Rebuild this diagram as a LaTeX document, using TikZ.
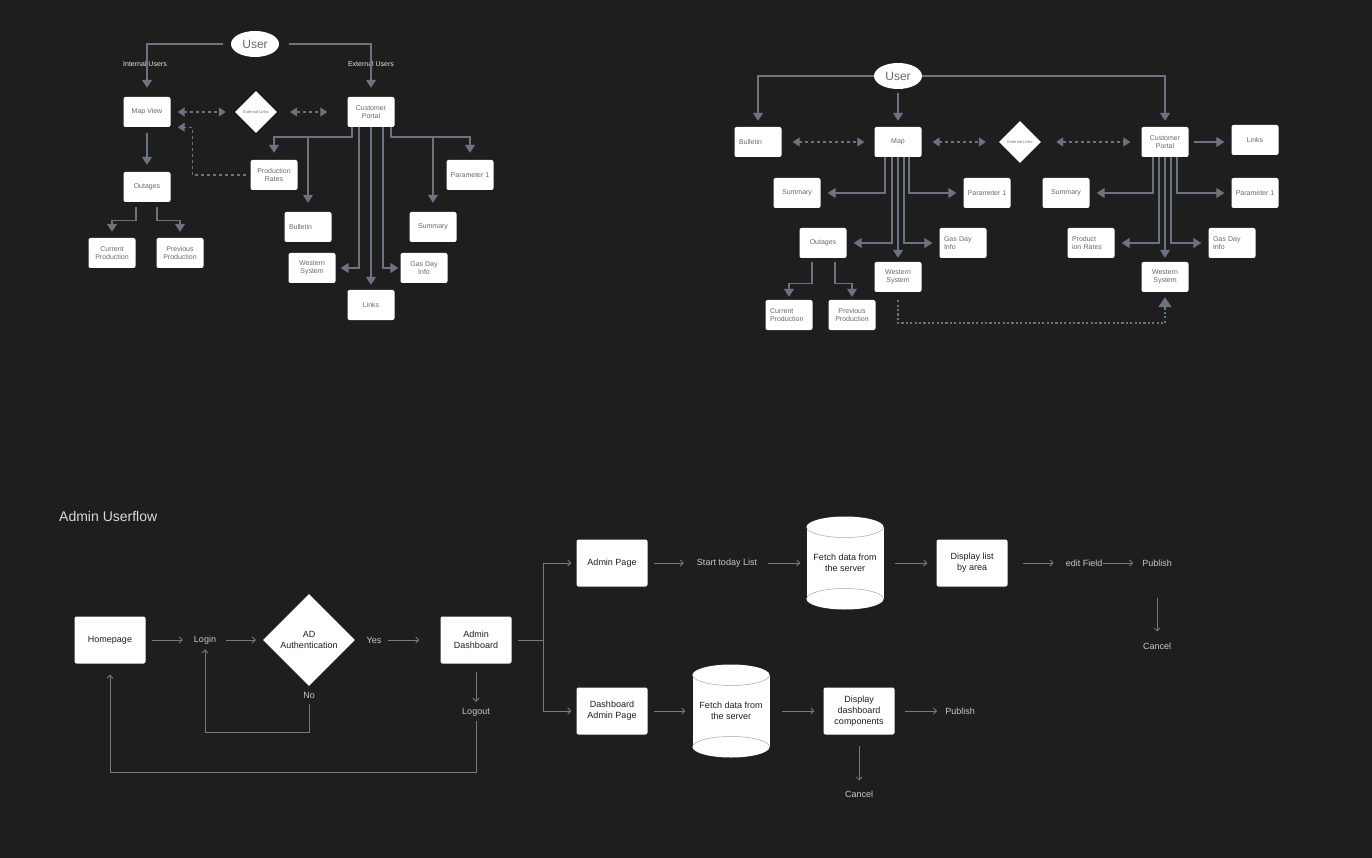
\documentclass[tikz,border=0pt]{standalone}
\usepackage{fontspec}
\setmainfont{Liberation Sans}
\usepackage{tikz}
\usetikzlibrary{positioning,arrows.meta,shapes.geometric,calc}
\definecolor{bgdark}{HTML}{1E1E1E}
\definecolor{linegray}{HTML}{6B7280}
\definecolor{boxtext}{HTML}{6A6A6A}
\definecolor{flowgray}{HTML}{7A7A7A}
\definecolor{labeltext}{HTML}{C8C8C8}
\definecolor{darktext}{HTML}{1F1F1F}

\begin{document}
\begin{tikzpicture}[x=1pt, y=-1pt,
  sbox/.style={fill=white, rounded corners=2pt, align=center, minimum width=47pt,
    minimum height=30pt, inner sep=1pt, text=boxtext, font=\fontsize{7}{8.5}\selectfont},
  lbox/.style={sbox, text width=38pt, align=left},
  userball/.style={ellipse, fill=white, minimum width=48pt, minimum height=26pt,
    inner sep=0pt, text=boxtext, font=\fontsize{12}{14}\selectfont},
  gate/.style={diamond, fill=white, minimum width=42pt, minimum height=42pt,
    inner sep=0pt, text=boxtext, font=\fontsize{4}{5}\selectfont},
  grp/.style={text=white!90!black, inner sep=0pt, font=\fontsize{7}{8}\selectfont},
  arrow/.style={-{Triangle[length=8pt,width=10pt]}, line width=1.3pt, draw=linegray},
  dashlink/.style={line width=1.2pt, draw=linegray, dash pattern=on 3pt off 3pt},
  dasharrow/.style={dashlink, {Triangle[length=7pt,width=9pt]}-{Triangle[length=7pt,width=9pt]}},
  dotarrow/.style={-{Triangle[length=10pt,width=13pt]}, line width=2.2pt, draw=linegray,
    dash pattern=on 2.2pt off 2.2pt},
  bigbox/.style={fill=white, rounded corners=2pt, align=center, minimum width=71pt,
    minimum height=47pt, inner sep=1pt, text=darktext, font=\fontsize{9}{11}\selectfont},
  authgate/.style={diamond, fill=white, minimum width=92pt, minimum height=92pt,
    inner sep=0pt, align=center, text=darktext, font=\fontsize{9}{11}\selectfont},
  cyltext/.style={align=center, minimum width=77pt, minimum height=93pt, inner sep=0pt,
    text=darktext, font=\fontsize{9}{11}\selectfont},
  cylrim/.style={draw=black!35, line width=0.5pt},
  lbl/.style={text=labeltext, inner sep=0pt, font=\fontsize{9}{11}\selectfont},
  flow/.style={-{Straight Barb[length=3pt,width=6pt]}, draw=flowgray, line width=0.8pt},
  flowline/.style={draw=flowgray, line width=0.8pt}
]
\fill[bgdark] (0,0) rectangle (1372,858);

\node[userball] (user1) at (255,44) {User};
\node[grp] (intusers) at (145,64) {Internal Users};
\node[grp] (extusers) at (371,64) {External Users};
\node[sbox] (mapview) at (147,112) {Map View};
\node[gate] (extlinks1) at (256,112) {External Links};
\node[sbox] (portal1) at (371,112) {Customer\\Portal};
\node[sbox] (outages1) at (147,187) {Outages};
\node[sbox] (prodrates1) at (274,175) {Production\\Rates};
\node[sbox] (param1) at (470,175) {Parameter 1};
\node[lbox] (bulletin1) at (308,227) {Bulletin};
\node[sbox] (summary1) at (433,227) {Summary};
\node[sbox] (western1) at (312,268) {Western\\System};
\node[sbox] (gasday1) at (424,268) {Gas Day\\Info};
\node[sbox] (links1) at (371,305) {Links};
\node[sbox] (curprod1) at (112,253) {Current\\Production};
\node[sbox] (prevprod1) at (180,253) {Previous\\Production};
\coordinate (pjoin) at (371,137);

\draw[arrow, shorten <=8pt, shorten >=9pt] (user1.west) -| (mapview.north);
\draw[arrow, shorten <=10pt, shorten >=9pt] (user1.east) -| (portal1.north);
\draw[dasharrow, shorten <=7pt, shorten >=9pt] (mapview) -- (extlinks1);
\draw[dasharrow, shorten <=13pt, shorten >=20pt] (extlinks1) -- (portal1);
\draw[arrow, shorten <=6pt, shorten >=7pt] (mapview) -- (outages1);
\draw[dashlink, -{Triangle[length=7pt,width=9pt]}, shorten <=4pt, shorten >=7pt]
  (prodrates1.west) -| ([xshift=22pt]mapview.south east) -- (mapview.south east);
\draw[arrow, shorten <=5pt, shorten >=6pt] ([xshift=-11pt]outages1.south) -- ++(0,18) -| (curprod1.north);
\draw[arrow, shorten <=5pt, shorten >=6pt] ([xshift=10pt]outages1.south) -- ++(0,18) -| (prevprod1.north);
\draw[arrow, shorten >=7pt] ([xshift=-19pt]portal1.south) |- (pjoin -| prodrates1.north) -- (prodrates1.north);
\draw[arrow, shorten >=7pt] ([xshift=20pt]portal1.south) |- (pjoin -| param1.north) -- (param1.north);
\draw[arrow, shorten >=9pt] (pjoin -| bulletin1.north) -- (bulletin1.north);
\draw[arrow, shorten >=9pt] (pjoin -| summary1.north) -- (summary1.north);
\draw[arrow, shorten >=5pt] ([xshift=-12pt]portal1.south) |- (western1.east);
\draw[arrow, shorten >=2pt] ([xshift=12pt]portal1.south) |- (gasday1.west);
\draw[arrow, shorten >=5pt] (portal1.south) -- (links1.north);

\node[userball] (user2) at (898,76) {User};
\node[lbox] (bulletin2) at (758,142) {Bulletin};
\node[sbox] (map2) at (898,142) {Map};
\node[gate] (extlinks2) at (1020,142) {External Links};
\node[sbox] (portal2) at (1165,142) {Customer\\Portal};
\node[sbox] (links2) at (1255,140) {Links};
\node[sbox] (summaryA) at (797,193) {Summary};
\node[sbox] (paramA) at (987,193) {Parameter 1};
\node[sbox] (summaryB) at (1066,193) {Summary};
\node[sbox] (paramB) at (1255,193) {Parameter 1};
\node[sbox] (outages2) at (823,243) {Outages};
\node[lbox] (gasdayA) at (963,243) {Gas Day\\Info};
\node[lbox] (prodrates2) at (1091,243) {Product\\ion Rates};
\node[lbox] (gasdayB) at (1232,243) {Gas Day\\Info};
\node[sbox] (westernA) at (898,277) {Western\\System};
\node[sbox] (westernB) at (1165,277) {Western\\System};
\node[lbox] (curprod2) at (789,315) {Current\\Production};
\node[sbox] (prevprod2) at (852,315) {Previous\\Production};

\draw[arrow, shorten >=6pt] (user2.west) -| (bulletin2.north);
\draw[arrow, shorten <=4pt, shorten >=6pt] (user2.south) -- (map2.north);
\draw[arrow, shorten >=6pt] (user2.east) -| (portal2.north);
\draw[dasharrow, shorten <=11pt, shorten >=10pt] (bulletin2) -- (map2);
\draw[dasharrow, shorten <=11pt, shorten >=13pt] (map2) -- (extlinks2);
\draw[dasharrow, shorten <=15pt, shorten >=11pt] (extlinks2) -- (portal2);
\draw[arrow, shorten <=5pt, shorten >=7pt] (portal2.east) -- (portal2.east -| links2.west);
\foreach \dx/\dst/\anc in {-13/summaryA/east, 11/paramA/west, -6/outages2/east, 6/gasdayA/west}
  \draw[arrow, shorten >=7pt] ([xshift=\dx pt]map2.south) |- (\dst.\anc);
\foreach \dx/\dst/\anc in {-12/summaryB/east, 12/paramB/west, -6/prodrates2/east, 6/gasdayB/west}
  \draw[arrow, shorten >=7pt] ([xshift=\dx pt]portal2.south) |- (\dst.\anc);
\draw[arrow, shorten >=4pt] (map2.south) -- (westernA.north);
\draw[arrow, shorten >=4pt] (portal2.south) -- (westernB.north);
\draw[arrow, shorten <=4pt, shorten >=3pt] ([xshift=-11pt]outages2.south) -- ++(0,25) -| (curprod2.north);
\draw[arrow, shorten <=4pt, shorten >=3pt] ([xshift=12pt]outages2.south) -- ++(0,25) -| (prevprod2.north);
\draw[dotarrow, shorten <=8pt, shorten >=5pt] (westernA.south) -- ++(0,31) -| (westernB.south);

\node[lbl, anchor=west, text=white!85!black, font=\fontsize{14}{16}\selectfont] (title) at (59,516) {Admin Userflow};
\foreach \cx/\cy in {845/563, 731/711} {
  \fill[white] (\cx-38.5,\cy-36) rectangle (\cx+38.5,\cy+36);
  \fill[white] (\cx,\cy-36) ellipse [x radius=38.5pt, y radius=10.5pt];
  \fill[white] (\cx,\cy+36) ellipse [x radius=38.5pt, y radius=10.5pt];
  \draw[cylrim] (\cx-38.5,\cy-36) arc [start angle=180, end angle=360, x radius=38.5pt, y radius=10.5pt];
  \draw[cylrim] (\cx-38.5,\cy+36) arc [start angle=180, end angle=0, x radius=38.5pt, y radius=10.5pt];
}
\node[bigbox] (home) at (110,640) {Homepage};
\node[lbl] (login) at (205,640) {Login};
\node[authgate] (auth) at (309,640) {AD\\Authentication};
\node[lbl] (yes) at (374,640) {Yes};
\node[bigbox] (dash) at (476,640) {Admin\\Dashboard};
\node[lbl] (no) at (309,695) {No};
\node[lbl] (logout) at (476,712) {Logout};
\coordinate (split) at (543,640);
\node[bigbox] (adminpage) at (612,563) {Admin Page};
\node[lbl] (starttoday) at (727,563) {Start today List};
\node[cyltext] (fetchA) at (845,563) {Fetch data from\\the server};
\node[bigbox] (displist) at (972,563) {Display list\\by area};
\node[lbl] (editfield) at (1084,563) {edit Field};
\node[lbl] (publishA) at (1157,563) {Publish};
\node[lbl] (cancelA) at (1157,646) {Cancel};
\node[bigbox] (dashadmin) at (612,711) {Dashboard\\Admin Page};
\node[cyltext] (fetchB) at (731,711) {Fetch data from\\the server};
\node[bigbox] (dispcomp) at (859,711) {Display\\dashboard\\components};
\node[lbl] (publishB) at (960,711) {Publish};
\node[lbl] (cancelB) at (859,794) {Cancel};

\foreach \a/\b/\s/\t in {home/login/6pt/11pt, login/auth/10pt/7pt, yes/dash/6pt/21pt,
  adminpage/starttoday/6pt/13pt, starttoday/fetchA/11pt/6pt, fetchA/displist/11pt/9pt,
  displist/editfield/15pt/12pt, editfield/publishA/1pt/9pt, dashadmin/fetchB/6pt/7pt,
  fetchB/dispcomp/12pt/9pt, dispcomp/publishB/10pt/8pt, publishA/cancelA/31pt/11pt,
  dispcomp/cancelB/11pt/10pt, dash/logout/8pt/6pt}
  \draw[flow, shorten <=\s, shorten >=\t] (\a) -- (\b);
\draw[flowline, shorten <=6pt] (dash.east) -- (split);
\draw[flow, shorten >=5pt] (split) |- (adminpage.west);
\draw[flow, shorten >=5pt] (split) |- (dashadmin.west);
\draw[flow, shorten <=6pt, shorten >=5pt] (no.south) -- (no.south |- 0,732) -| (login.south);
\draw[flow, shorten <=5pt, shorten >=11pt] (logout.south) -- (logout.south |- 0,772) -| (home.south);
\end{tikzpicture}
\end{document}
